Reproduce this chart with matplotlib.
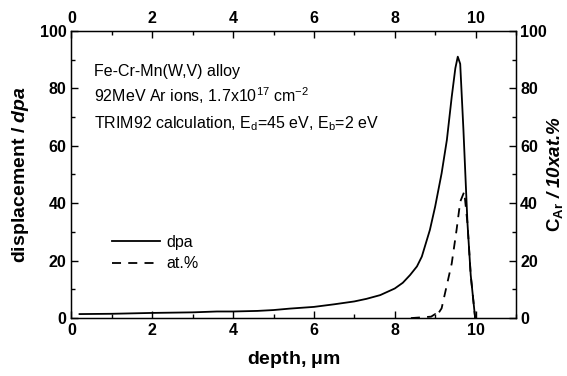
import matplotlib
matplotlib.use("Agg")
import matplotlib.pyplot as plt
from matplotlib.ticker import MultipleLocator

plt.rcParams["font.family"] = ["Liberation Sans", "DejaVu Sans"]
plt.rcParams["mathtext.fontset"] = "custom"
plt.rcParams["mathtext.rm"] = "Liberation Sans"
plt.rcParams["mathtext.it"] = "Liberation Sans:italic:bold"
plt.rcParams["mathtext.bf"] = "Liberation Sans:bold"

# displacement damage profile (dpa)
depth_dpa = [0.2, 1.0, 2.0, 3.0, 3.6, 4.0, 4.6, 5.0, 5.4, 6.0, 6.5, 7.0, 7.3,
             7.64, 8.0, 8.2, 8.38, 8.55, 8.67, 8.87, 9.0, 9.16, 9.29, 9.41,
             9.5, 9.56, 9.62, 9.70, 9.80, 9.88, 9.99]
dpa = [1.4, 1.5, 1.8, 2.0, 2.3, 2.3, 2.5, 2.8, 3.3, 3.9, 4.8, 5.8, 6.7,
       8.0, 10.3, 12.3, 15.0, 18.0, 21.4, 30.7, 38.8, 50.4, 62.0, 77.0,
       87.0, 91.0, 88.5, 65.5, 33.0, 15.0, 0.0]

# implanted Ar concentration (x10 at.%)
depth_at = [8.4, 8.9, 9.0, 9.03, 9.16, 9.41, 9.53, 9.62, 9.72, 9.80, 9.88, 9.99]
at_pct = [0.0, 0.5, 1.4, 0.6, 3.4, 19.0, 30.7, 40.5, 44.0, 33.0, 15.0, 0.0]

fig = plt.figure(figsize=(5.67, 3.76), dpi=100)
ax = fig.add_axes([0.126, 0.154, 0.784, 0.764])

ax.plot(depth_dpa, dpa, color="black", linewidth=1.3, label="dpa")
ax.plot(depth_at, at_pct, color="black", linewidth=1.3, linestyle=(0, (5, 4)),
        label="at.%")

ax.set_xlim(0, 11)
ax.set_ylim(0, 100)
ax.xaxis.set_major_locator(MultipleLocator(2))
ax.xaxis.set_minor_locator(MultipleLocator(1))
ax.yaxis.set_major_locator(MultipleLocator(20))
ax.yaxis.set_minor_locator(MultipleLocator(10))
ax.tick_params(which="both", direction="in", top=True, right=False,
               labeltop=True, labelsize=11.5, width=1.0)
ax.tick_params(which="major", length=5)
ax.tick_params(which="minor", length=3)
for sp in ax.spines.values():
    sp.set_linewidth(1.0)

ax2 = ax.twinx()
ax2.set_ylim(0, 100)
ax2.yaxis.set_major_locator(MultipleLocator(20))
ax2.yaxis.set_minor_locator(MultipleLocator(10))
ax2.tick_params(which="both", direction="in", labelsize=11.5, width=1.0, pad=3)
ax2.tick_params(which="major", length=5)
ax2.tick_params(which="minor", length=3)

fig.canvas.draw()
for lab in (ax.get_xticklabels() + ax.get_yticklabels() + ax2.get_yticklabels()):
    lab.set_fontweight("bold")
for t in ax.xaxis.get_major_ticks():
    t.label2.set_fontweight("bold")

ax.set_xlabel(r"depth, $\mathbf{\mu}$m", fontsize=14, fontweight="bold",
              labelpad=8)
ax.set_ylabel(r"displacement / $\mathit{dpa}$", fontsize=14, fontweight="bold",
              labelpad=6)
ax2.set_ylabel(r"$\mathbf{C_{Ar}}$ / 10xat.%", fontsize=13.5, fontweight="bold",
               fontstyle="italic")
ax2.yaxis.set_label_coords(1.087, 0.5)
ax2.yaxis.label.set_va("center")

ax.text(0.05, 0.86, "Fe-Cr-Mn(W,V) alloy", transform=ax.transAxes,
        fontsize=11.5, va="center")
ax.text(0.05, 0.773, r"92MeV Ar ions, 1.7x10$^{17}$ cm$^{-2}$",
        transform=ax.transAxes, fontsize=11.5, va="center")
ax.text(0.05, 0.677, r"TRIM92 calculation, E$_\mathrm{d}$=45 eV, E$_\mathrm{b}$=2 eV",
        transform=ax.transAxes, fontsize=11.5, va="center")

ax.legend(loc="upper left", bbox_to_anchor=(0.06, 0.34), frameon=False,
          fontsize=11.5, handlelength=3.0, handletextpad=0.4, labelspacing=0.4)

fig.savefig("out.png", dpi=100)
